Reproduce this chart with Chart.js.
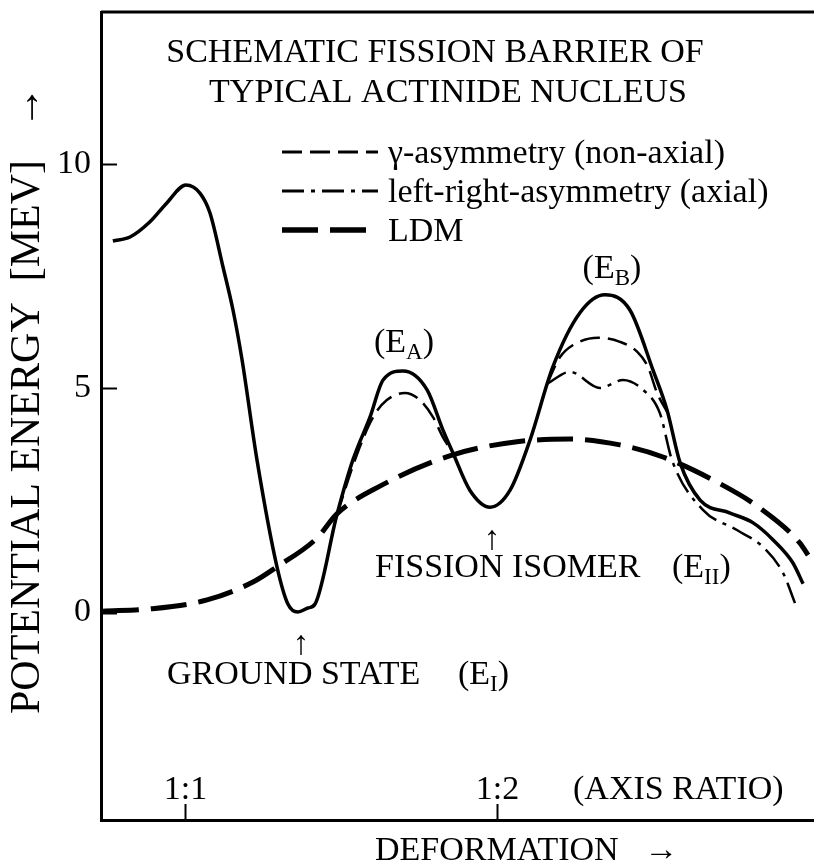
<!DOCTYPE html>
<html>
<head>
<meta charset="utf-8">
<script src="https://cdn.jsdelivr.net/npm/chart.js@4.4.1/dist/chart.umd.min.js"></script>
<style>
  html, body { margin: 0; padding: 0; background: #fff; }
  canvas { display: block; }
</style>
</head>
<body>
<canvas id="barrier" width="814" height="863"></canvas>
<script>
// deformation axis: 1 = axis ratio 1:1, 2 = axis ratio 1:2
const xTicks = [1, 2];
const xTickLabels = ['1:1', '1:2'];
const yTicks = [0, 5, 10];

// barrier with shell corrections (solid)
const barrierX = [0.769, 0.824, 0.888, 0.942, 1.003, 1.048, 1.080, 1.122, 1.154, 1.183, 1.231, 1.295, 1.330,
  1.362, 1.394, 1.417, 1.487, 1.538, 1.593, 1.635, 1.699, 1.776, 1.827, 1.859, 1.913, 1.978, 2.042, 2.106,
  2.179, 2.266, 2.346, 2.426, 2.500, 2.545, 2.587, 2.651, 2.747, 2.821, 2.885, 2.949, 2.981];
const barrierY = [8.29, 8.38, 8.72, 9.14, 9.54, 9.36, 8.92, 7.71, 6.75, 5.64, 3.40, 1.02, 0.19,
  0.01, 0.10, 0.19, 2.18, 3.40, 4.36, 5.19, 5.39, 4.97, 4.07, 3.56, 2.73, 2.35, 2.73, 3.85,
  5.48, 6.69, 7.09, 6.75, 5.41, 4.52, 3.34, 2.51, 2.22, 2.00, 1.62, 1.10, 0.64];

// gamma-asymmetry (non-axial): inner and outer barrier, null splits the two pieces
const gammaX = [1.487, 1.551, 1.603, 1.647, 1.705, 1.753, 1.795, 1.827, 1.859, 2.0,
  2.160, 2.202, 2.244, 2.324, 2.394, 2.449, 2.484, 2.513, 2.545];
const gammaY = [2.18, 3.52, 4.36, 4.74, 4.90, 4.74, 4.36, 3.91, 3.56, null,
  5.10, 5.70, 5.97, 6.13, 6.04, 5.82, 5.48, 4.90, 4.48];

// left-right-asymmetry (axial)
const mirrorX = [2.160, 2.234, 2.330, 2.404, 2.468, 2.522, 2.561, 2.660, 2.769, 2.853, 2.917, 2.955];
const mirrorY = [5.10, 5.37, 5.01, 5.19, 4.97, 4.45, 3.40, 2.29, 1.84, 1.46, 0.88, 0.21];

// liquid drop model
const ldmX = [0.737, 0.888, 1.071, 1.218, 1.295, 1.423, 1.487, 1.625, 1.859, 2.064, 2.234, 2.394,
  2.532, 2.705, 2.843, 2.971, 2.997];
const ldmY = [0.03, 0.08, 0.28, 0.68, 1.02, 1.66, 2.20, 2.82, 3.52, 3.81, 3.87, 3.74,
  3.47, 2.91, 2.33, 1.55, 1.28];

const legendLabels = ['γ-asymmetry (non-axial)', 'left-right-asymmetry (axial)', 'LDM'];

const serif = '"Liberation Serif", "Times New Roman", serif';

const toPoints = (xs, ys) => xs.map((x, i) => ({x: x, y: ys[i]}));

// draws text with subscript pieces, parts = [[text, isSub], ...]
function drawParts(ctx, parts, x, y, align) {
  const big = '34px ' + serif;
  const small = '23px ' + serif;
  let w = 0;
  parts.forEach(([t, sub]) => {
    ctx.font = sub ? small : big;
    w += ctx.measureText(t).width;
  });
  let cx = align === 'center' ? x - w / 2 : x;
  parts.forEach(([t, sub]) => {
    ctx.font = sub ? small : big;
    ctx.fillText(t, cx, sub ? y + 7 : y);
    cx += ctx.measureText(t).width;
  });
}

const schematicText = {
  id: 'schematicText',
  afterDraw(chart) {
    const ctx = chart.ctx;
    const area = chart.chartArea;
    const xs = chart.scales.x;
    const ys = chart.scales.y;
    ctx.save();
    ctx.strokeStyle = '#000';
    ctx.fillStyle = '#000';
    ctx.textBaseline = 'alphabetic';
    ctx.textAlign = 'left';

    // top edge of the frame
    ctx.lineWidth = 3;
    ctx.beginPath();
    ctx.moveTo(area.left, area.top);
    ctx.lineTo(area.right, area.top);
    ctx.stroke();

    // inward tick marks
    ctx.lineWidth = 2;
    yTicks.forEach((v) => {
      const py = Math.round(ys.getPixelForValue(v)) + 0.5;
      ctx.beginPath();
      ctx.moveTo(area.left, py);
      ctx.lineTo(area.left + 16, py);
      ctx.stroke();
    });
    xTicks.forEach((v, i) => {
      const px = Math.round(xs.getPixelForValue(v)) + 0.5;
      ctx.beginPath();
      ctx.moveTo(px, area.bottom);
      ctx.lineTo(px, area.bottom - 16);
      ctx.stroke();
      drawParts(ctx, [[xTickLabels[i], false]], px, area.bottom - 21, 'center');
    });
    drawParts(ctx, [['(AXIS RATIO)', false]], 573, area.bottom - 21, 'left');

    // heading
    drawParts(ctx, [['SCHEMATIC FISSION BARRIER OF', false]], 435, 62, 'center');
    drawParts(ctx, [['TYPICAL ACTINIDE NUCLEUS', false]], 448, 102, 'center');

    // legend, styles taken from the datasets
    [1, 2, 3].forEach((di, row) => {
      const ds = chart.data.datasets[di];
      const ly = 152 + row * 39;
      ctx.save();
      ctx.lineWidth = ds.borderWidth + 0.5;
      ctx.setLineDash(ds.borderDash);
      ctx.beginPath();
      ctx.moveTo(282, ly);
      ctx.lineTo(378, ly);
      ctx.stroke();
      ctx.restore();
      drawParts(ctx, [[legendLabels[row], false]], 388, ly + 11, 'left');
    });

    // barrier annotations
    drawParts(ctx, [['(E', false], ['A', true], [')', false]], 404, 352, 'center');
    drawParts(ctx, [['(E', false], ['B', true], [')', false]], 612, 278, 'center');
    drawParts(ctx, [['↑', false]], 301, 654, 'center');
    drawParts(ctx, [['GROUND STATE', false]], 167, 684, 'left');
    drawParts(ctx, [['(E', false], ['I', true], [')', false]], 458, 684, 'left');
    drawParts(ctx, [['↑', false]], 492, 549, 'center');
    drawParts(ctx, [['FISSION ISOMER', false]], 375, 577, 'left');
    drawParts(ctx, [['(E', false], ['II', true], [')', false]], 672, 577, 'left');

    // horizontal axis title
    drawParts(ctx, [['DEFORMATION   →', false]], 375, 860, 'left');
    ctx.restore();
  }
};

new Chart(document.getElementById('barrier'), {
  type: 'line',
  data: {
    datasets: [
      {
        label: 'shell corrected',
        data: toPoints(barrierX, barrierY),
        borderColor: '#000',
        borderWidth: 3.5,
        borderDash: [],
      },
      {
        label: legendLabels[0],
        data: toPoints(gammaX, gammaY),
        borderColor: '#000',
        borderWidth: 2.5,
        borderDash: [20, 8],
      },
      {
        label: legendLabels[1],
        data: toPoints(mirrorX, mirrorY),
        borderColor: '#000',
        borderWidth: 2.5,
        borderDash: [22, 7, 4, 7],
      },
      {
        label: legendLabels[2],
        data: toPoints(ldmX, ldmY),
        borderColor: '#000',
        borderWidth: 5,
        borderDash: [36, 12],
      },
    ],
  },
  options: {
    responsive: false,
    animation: false,
    devicePixelRatio: 1,
    spanGaps: false,
    layout: {padding: {top: 12, right: 0, left: 0, bottom: 0}},
    elements: {
      point: {radius: 0},
      line: {cubicInterpolationMode: 'monotone', fill: false, borderCapStyle: 'butt'},
    },
    plugins: {
      legend: {display: false},
      tooltip: {enabled: false},
    },
    scales: {
      x: {
        type: 'linear',
        min: 0.731,
        max: 3.016,
        grid: {display: false},
        border: {display: true, color: '#000', width: 3},
        ticks: {display: false},
        afterFit: (scale) => {
          scale.height = 43;
          scale.paddingLeft = 0;
          scale.paddingRight = 0;
        },
      },
      y: {
        type: 'linear',
        min: -4.63,
        max: 13.4,
        afterBuildTicks: (scale) => { scale.ticks = yTicks.map((v) => ({value: v})); },
        grid: {display: false, drawTicks: false},
        border: {display: true, color: '#000', width: 3},
        ticks: {
          color: '#000',
          padding: 10,
          font: {family: serif, size: 34},
        },
        title: {
          display: true,
          text: '   POTENTIAL ENERGY  [MEV]   →',
          color: '#000',
          padding: {top: 3, bottom: 0},
          font: {family: serif, size: 42},
        },
        afterFit: (scale) => {
          scale.width = 101;
          scale.paddingTop = 0;
          scale.paddingBottom = 0;
        },
      },
    },
  },
  plugins: [schematicText],
});
</script>
</body>
</html>
